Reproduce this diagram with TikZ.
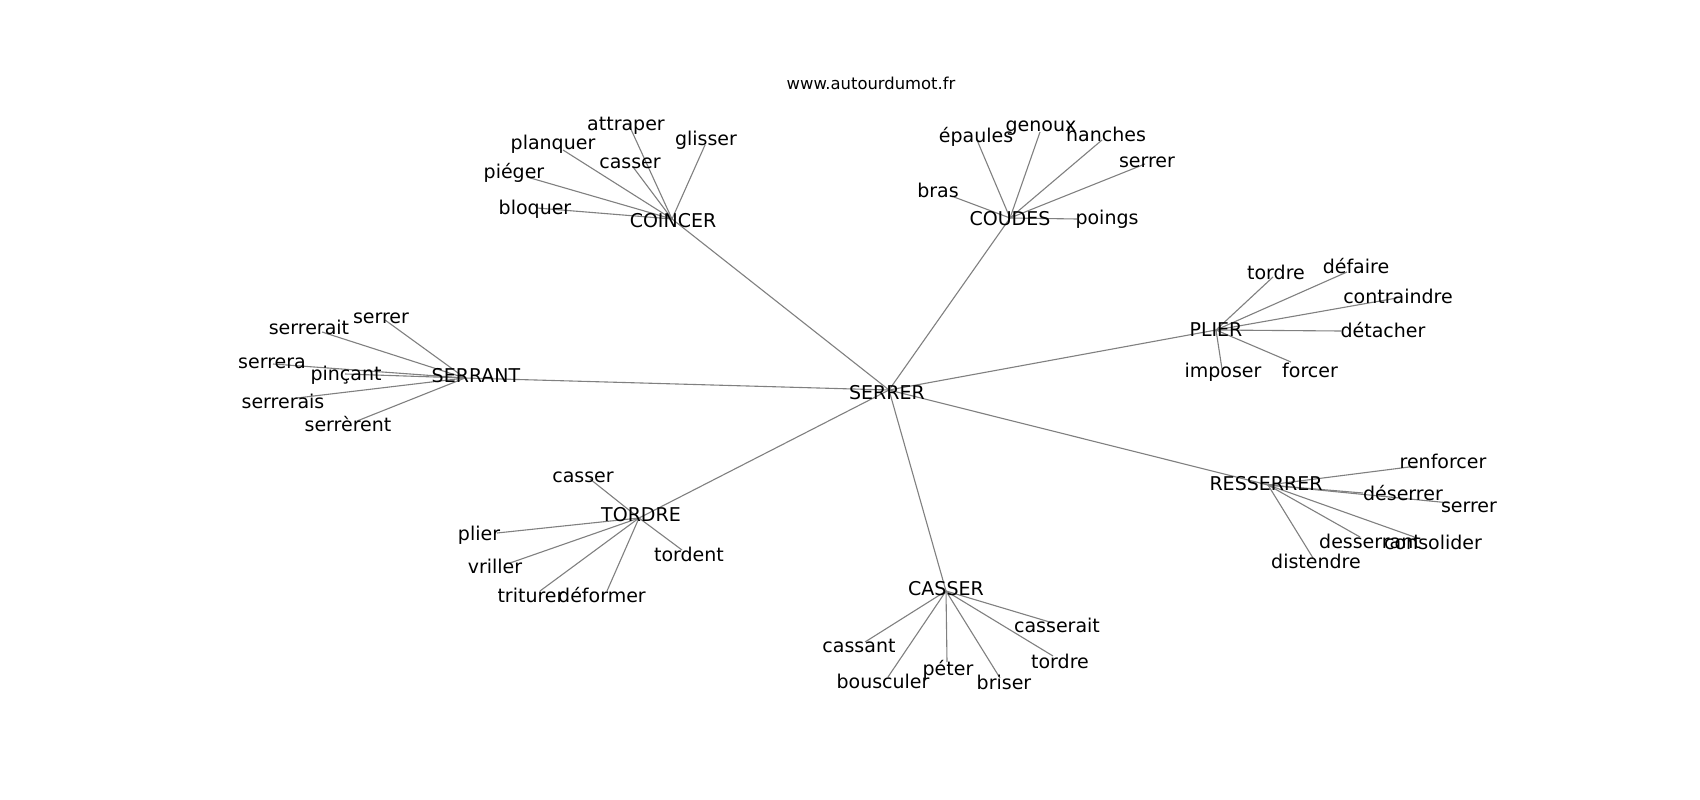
\documentclass[tikz,border=0pt]{standalone}
\usepackage{fontspec}
\setmainfont{DejaVu Sans}
\definecolor{edgegray}{RGB}{128,128,128}
\tikzset{
  lbl/.style={anchor=base, inner sep=0pt, font=\fontsize{19}{22}\selectfont, text=black},
  ttl/.style={anchor=base, inner sep=0pt, font=\fontsize{16.4}{19}\selectfont, text=black},
  edge/.style={draw=edgegray, line width=1.1pt}
}
\begin{document}
\begin{tikzpicture}[x=1pt,y=-1pt]
\fill[white] (0,0) rectangle (1700,800);
\useasboundingbox (0,0) rectangle (1700,800);
% hub points
\coordinate (SERRER) at (889,390);
\coordinate (COINCER) at (672,219);
\coordinate (COUDES) at (1010,218);
\coordinate (PLIER) at (1216,330);
\coordinate (SERRANT) at (465,378);
\coordinate (RESSERRER) at (1268,485);
\coordinate (TORDRE) at (639,518);
\coordinate (CASSER) at (946,591);
% leaf points
\coordinate (attraper) at (629,125);
\coordinate (planquer) at (563,150);
\coordinate (glisser) at (705,145);
\coordinate (casserA) at (633,167);
\coordinate (pieger) at (527,177);
\coordinate (bloquer) at (537,208);
\coordinate (bras) at (954,197);
\coordinate (epaules) at (977,140);
\coordinate (genoux) at (1040,132);
\coordinate (hanches) at (1102,140);
\coordinate (serrerB) at (1145,164);
\coordinate (poings) at (1077,219);
\coordinate (tordreC) at (1273,277);
\coordinate (defaire) at (1347,272);
\coordinate (contraindre) at (1397,298);
\coordinate (detacher) at (1341,331);
\coordinate (forcer) at (1291,362);
\coordinate (imposer) at (1222,369);
\coordinate (serrerD) at (385,320);
\coordinate (serrerait) at (322,332);
\coordinate (serrera) at (273,364);
\coordinate (pincant) at (345,374);
\coordinate (serrerais) at (297,398);
\coordinate (serrerent) at (357,421);
\coordinate (renforcer) at (1417,466);
\coordinate (deserrer) at (1363,493);
\coordinate (serrerE) at (1450,503);
\coordinate (consolider) at (1420,539);
\coordinate (desserrant) at (1360,537);
\coordinate (distendre) at (1313,558);
\coordinate (casserF) at (590,479);
\coordinate (plier) at (497,533);
\coordinate (vriller) at (510,563);
\coordinate (triturer) at (540,591);
\coordinate (deformer) at (607,591);
\coordinate (tordent) at (682,550);
\coordinate (cassant) at (865,642);
\coordinate (bousculer) at (888,677);
\coordinate (peter) at (947,662);
\coordinate (briser) at (1000,678);
\coordinate (tordreG) at (1053,656);
\coordinate (casserait) at (1053,623);
% edges
\foreach \h in {COINCER,COUDES,PLIER,SERRANT,RESSERRER,TORDRE,CASSER}
  \draw[edge] (SERRER) -- (\h);
\foreach \l in {attraper,planquer,glisser,casserA,pieger,bloquer}
  \draw[edge] (COINCER) -- (\l);
\foreach \l in {bras,epaules,genoux,hanches,serrerB,poings}
  \draw[edge] (COUDES) -- (\l);
\foreach \l in {tordreC,defaire,contraindre,detacher,forcer,imposer}
  \draw[edge] (PLIER) -- (\l);
\foreach \l in {serrerD,serrerait,serrera,pincant,serrerais,serrerent}
  \draw[edge] (SERRANT) -- (\l);
\foreach \l in {renforcer,deserrer,serrerE,consolider,desserrant,distendre}
  \draw[edge] (RESSERRER) -- (\l);
\foreach \l in {casserF,plier,vriller,triturer,deformer,tordent}
  \draw[edge] (TORDRE) -- (\l);
\foreach \l in {cassant,bousculer,peter,briser,tordreG,casserait}
  \draw[edge] (CASSER) -- (\l);
% title
\node[ttl] (title) at (871,89) {www.autourdumot.fr};
% labels
\node[lbl] (SERRER-l) at (887,399) {SERRER};
\node[lbl] (COINCER-l) at (673,227) {COINCER};
\node[lbl] (attraper-l) at (626,130) {attraper};
\node[lbl] (planquer-l) at (553,149) {planquer};
\node[lbl] (glisser-l) at (706,145) {glisser};
\node[lbl] (casserA-l) at (630,168) {casser};
\node[lbl] (pieger-l) at (514,178) {piéger};
\node[lbl] (bloquer-l) at (535,214) {bloquer};
\node[lbl] (COUDES-l) at (1010,225) {COUDES};
\node[lbl] (epaules-l) at (976,142) {épaules};
\node[lbl] (genoux-l) at (1041,131) {genoux};
\node[lbl] (hanches-l) at (1106,141) {hanches};
\node[lbl] (serrerB-l) at (1147,167) {serrer};
\node[lbl] (poings-l) at (1107,224) {poings};
\node[lbl] (bras-l) at (938,197) {bras};
\node[lbl] (PLIER-l) at (1216,336) {PLIER};
\node[lbl] (tordreC-l) at (1276,279) {tordre};
\node[lbl] (defaire-l) at (1356,273) {défaire};
\node[lbl] (contraindre-l) at (1398,303) {contraindre};
\node[lbl] (detacher-l) at (1383,337) {détacher};
\node[lbl] (forcer-l) at (1310,377) {forcer};
\node[lbl] (imposer-l) at (1223,377) {imposer};
\node[lbl] (SERRANT-l) at (476,382) {SERRANT};
\node[lbl] (serrerD-l) at (381,323) {serrer};
\node[lbl] (serrerait-l) at (309,334) {serrerait};
\node[lbl] (serrera-l) at (272,368) {serrera};
\node[lbl] (pincant-l) at (346,380) {pinçant};
\node[lbl] (serrerais-l) at (283,408) {serrerais};
\node[lbl] (serrerent-l) at (348,431) {serrèrent};
\node[lbl] (RESSERRER-l) at (1266,490) {RESSERRER};
\node[lbl] (renforcer-l) at (1443,468) {renforcer};
\node[lbl] (deserrer-l) at (1403,500) {déserrer};
\node[lbl] (serrerE-l) at (1469,512) {serrer};
\node[lbl] (consolider-l) at (1433,549) {consolider};
\node[lbl] (desserrant-l) at (1370,548) {desserrant};
\node[lbl] (distendre-l) at (1316,568) {distendre};
\node[lbl] (TORDRE-l) at (641,521) {TORDRE};
\node[lbl] (casserF-l) at (583,482) {casser};
\node[lbl] (plier-l) at (479,540) {plier};
\node[lbl] (vriller-l) at (495,573) {vriller};
\node[lbl] (triturer-l) at (531,602) {triturer};
\node[lbl] (deformer-l) at (602,602) {déformer};
\node[lbl] (tordent-l) at (689,561) {tordent};
\node[lbl] (CASSER-l) at (946,595) {CASSER};
\node[lbl] (cassant-l) at (859,652) {cassant};
\node[lbl] (bousculer-l) at (883,688) {bousculer};
\node[lbl] (peter-l) at (948,675) {péter};
\node[lbl] (briser-l) at (1004,689) {briser};
\node[lbl] (tordreG-l) at (1060,668) {tordre};
\node[lbl] (casserait-l) at (1057,632) {casserait};
\end{tikzpicture}
\end{document}
